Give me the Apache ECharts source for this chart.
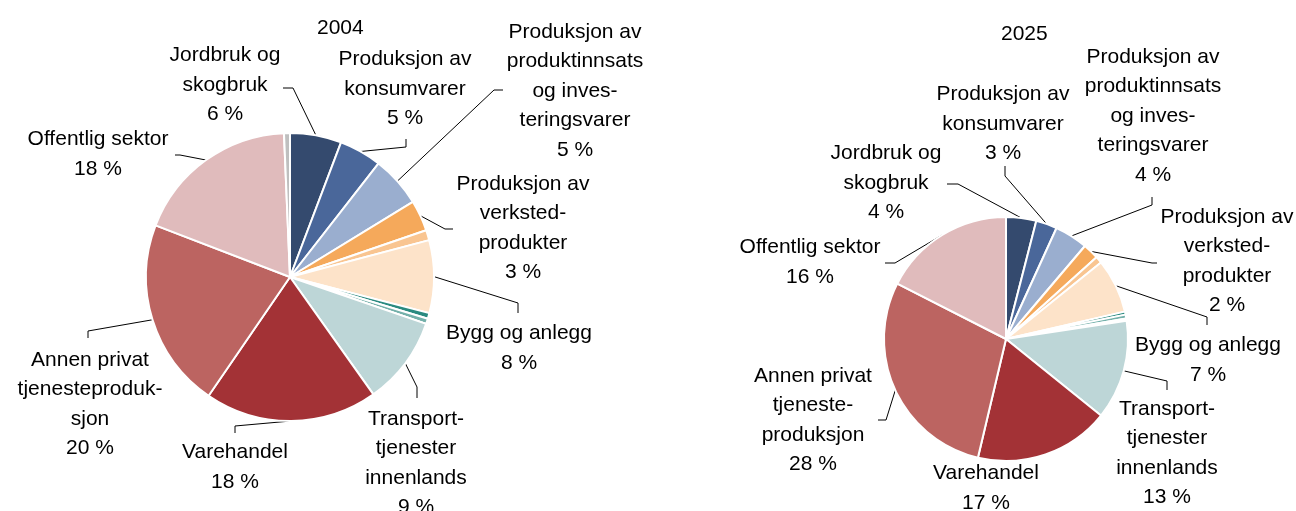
<!DOCTYPE html>
<html><head><meta charset="utf-8">
<script src="https://cdn.jsdelivr.net/npm/echarts@6/dist/echarts.min.js"></script>
<style>html,body{margin:0;padding:0;background:#fff}#c{width:1296px;height:511px}</style>
</head><body><div id="c"></div>
<script>
// ---- data ----
const categories = ['Jordbruk og skogbruk', 'Produksjon av konsumvarer', 'Produksjon av produktinnsats og investeringsvarer', 'Produksjon av verkstedprodukter', 'Annen industri', 'Bygg og anlegg', 'Kraftforsyning', 'Vannforsyning', 'Annet', 'Transporttjenester innenlands', 'Varehandel', 'Annen privat tjenesteproduksjon', 'Offentlig sektor', 'Øvrige'];
const labels2004 = ['Jordbruk og\nskogbruk', 'Produksjon av\nkonsumvarer', 'Produksjon av\nproduktinnsats\nog inves-\nteringsvarer', 'Produksjon av\nverksted-\nprodukter', '', 'Bygg og anlegg', '', '', '', 'Transport-\ntjenester\ninnenlands', 'Varehandel', 'Annen privat\ntjenesteproduk-\nsjon', 'Offentlig sektor', ''];
const labels2025 = ['Jordbruk og\nskogbruk', 'Produksjon av\nkonsumvarer', 'Produksjon av\nproduktinnsats\nog inves-\nteringsvarer', 'Produksjon av\nverksted-\nprodukter', '', 'Bygg og anlegg', '', '', '', 'Transport-\ntjenester\ninnenlands', 'Varehandel', 'Annen privat\ntjeneste-\nproduksjon', 'Offentlig sektor', ''];
const pct2004 = ['6 %', '5 %', '5 %', '3 %', '', '8 %', '', '', '', '9 %', '18 %', '20 %', '18 %', ''];
const pct2025 = ['4 %', '3 %', '4 %', '2 %', '', '7 %', '', '', '', '13 %', '17 %', '28 %', '16 %', ''];
const values2004 = [5.8, 4.8, 5.75, 3.5, 1.15, 8.2, 0.65, 0.6, 0, 9.95, 19.5, 21.4, 18.6, 0.67];
const values2025 = [4.0, 2.8, 4.4, 2.1, 0.9, 7.2, 0.4, 0.5, 0.3, 13.2, 17.9, 28.8, 17.5, 0];
const years = ['2004', '2025'];

// ---- styles / layout ----
const colors = ['#344a6e', '#4a679a', '#9aaecf', '#f5a95b', '#f9c591', '#fde3c9', '#2a8a80', '#74b0aa', '#ffffff', '#bdd6d7', '#a33236', '#bc6461', '#e0bbbc', '#bfbfbf'];
const FONT = '"Liberation Sans", Arial, sans-serif';

// label block centres
const pos2004 = {0: [225, 85], 1: [405, 89], 2: [575, 91], 3: [523, 228], 5: [519, 348], 9: [416, 463], 10: [235, 467], 11: [90, 404], 12: [98, 154]};
const line2004 = {0: [[293, 88], [283, 88]], 1: [[406, 147], [406, 139]], 2: [[494, 90], [503, 90]], 3: [[445, 229], [453, 229]], 5: [[518, 303], [518, 313]], 9: [[417, 387], [417, 398]], 10: [[235, 426], [235, 433]], 11: [[88, 331], [88, 338]], 12: [[180, 155], [175, 155]]};
const pos2025 = {0: [886, 183], 1: [1003, 124], 2: [1153, 116], 3: [1227, 261], 5: [1208, 360], 9: [1167, 453], 10: [986, 488], 11: [813, 420], 12: [810, 262]};
const line2025 = {0: [[958, 184], [947, 184]], 1: [[1005, 176], [1005, 166]], 2: [[1152, 205], [1152, 197]], 3: [[1152, 263], [1157, 263]], 5: [[1207, 317], [1207, 325]], 9: [[1167, 381], [1167, 390]], 11: [[886, 420], [878, 420]], 12: [[895, 263], [885, 263]]};

function buildData(values, names, pcts, lines) {
  return values.map((v, i) => ({
    name: categories[i],
    value: v,
    itemStyle: {color: colors[i]},
    label: {show: names[i] !== '', formatter: names[i] + '\n' + pcts[i]},
    labelLine: {show: names[i] !== '' && lines[i] != null}
  }));
}
function makeLayout(pos, lines) {
  return function (params) {
    const i = params.dataIndex;
    const p = pos[i];
    if (!p) return {};
    const out = {x: p[0], y: p[1], align: 'center', verticalAlign: 'middle'};
    const L = lines[i];
    if (L && params.labelLinePoints) {
      out.labelLinePoints = [params.labelLinePoints[0], L[0], L[1]];
    }
    return out;
  };
}
function makeSeries(name, center, radius, values, names, pcts, pos, lines) {
  return {
    type: 'pie', name: name, center: center, radius: radius,
    startAngle: 90, clockwise: true, avoidLabelOverlap: false,
    animation: false,
    itemStyle: {borderColor: '#ffffff', borderWidth: 2},
    label: {position: 'outside', color: '#000', fontFamily: FONT, fontSize: 21, lineHeight: 29.5, align: 'center'},
    labelLine: {show: true, length: 10, length2: 10, lineStyle: {color: '#000', width: 1}},
    emphasis: {disabled: true},
    labelLayout: makeLayout(pos, lines),
    data: buildData(values, names, pcts, lines)
  };
}

const chart = echarts.init(document.getElementById('c'), null, {renderer: 'canvas'});
chart.setOption({
  backgroundColor: '#ffffff',
  animation: false,
  title: [
    {text: years[0], left: 312, top: 13, textStyle: {fontFamily: FONT, fontSize: 21, fontWeight: 'normal', color: '#000'}},
    {text: years[1], left: 996, top: 19, textStyle: {fontFamily: FONT, fontSize: 21, fontWeight: 'normal', color: '#000'}}
  ],
  series: [
    makeSeries(years[0], [290, 277], 144, values2004, labels2004, pct2004, pos2004, line2004),
    makeSeries(years[1], [1006, 339], 122, values2025, labels2025, pct2025, pos2025, line2025)
  ]
});
</script>
</body></html>
